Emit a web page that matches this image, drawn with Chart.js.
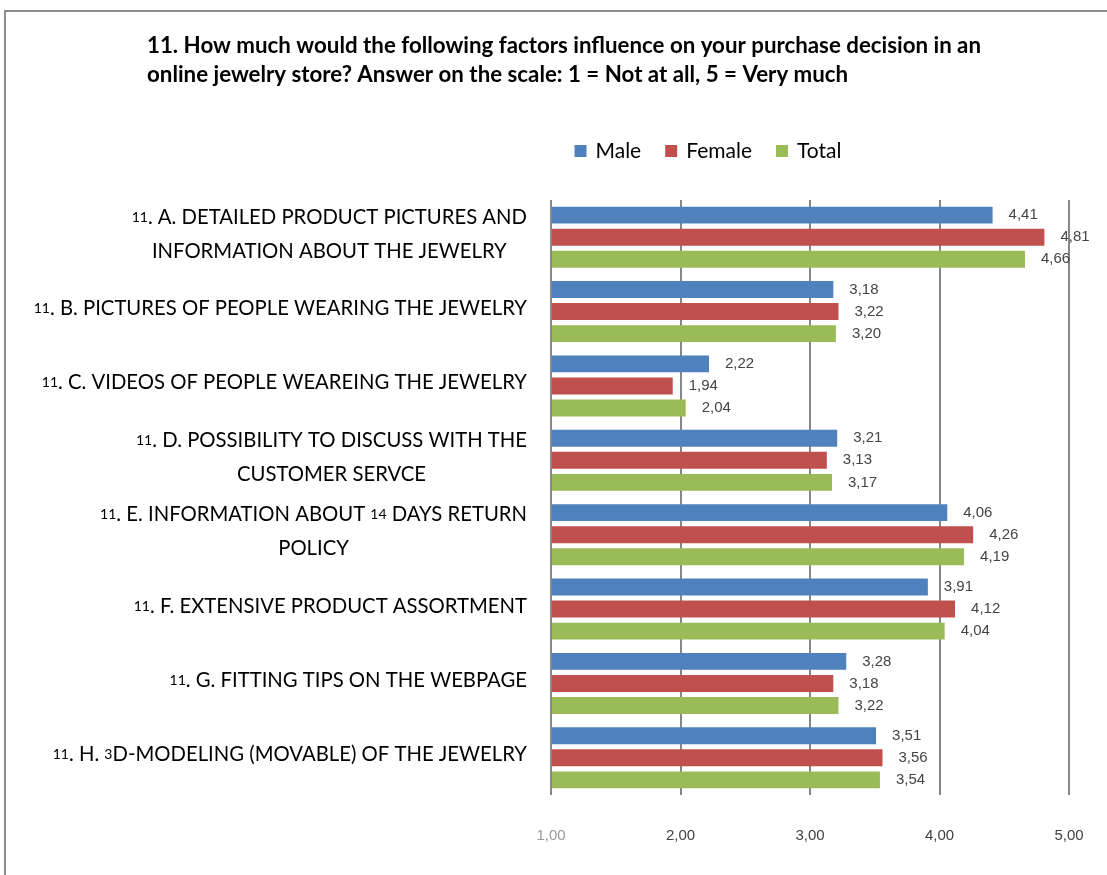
<!DOCTYPE html>
<html lang="en">
<head>
<meta charset="UTF-8" />
<title>Purchase decision factors</title>
<script src="https://cdn.jsdelivr.net/npm/chart.js"></script>
<style>
  body { margin: 0; overflow: hidden; background: #fff; }
  .frame {
    position: fixed; left: 4px; top: 10px; width: 1200px; height: 1000px;
    border: 2px solid #8c8c8c; box-sizing: border-box;
  }
  #wrap { position: fixed; left: 0; top: 0; width: 1107px; height: 875px; }
</style>
</head>
<body>
<div class="frame"></div>
<div id="wrap"><canvas id="chart"></canvas></div>
<script>
const titleLines = [
  '11. How much would the following factors influence on your purchase decision in an',
  'online jewelry store? Answer on the scale: 1 = Not at all, 5 = Very much'
];
const categories = [
  ['11. A. DETAILED PRODUCT PICTURES AND', 'INFORMATION ABOUT THE JEWELRY'],
  ['11. B. PICTURES OF PEOPLE WEARING THE JEWELRY'],
  ['11. C. VIDEOS OF PEOPLE WEAREING THE JEWELRY'],
  ['11. D. POSSIBILITY TO DISCUSS WITH THE', 'CUSTOMER SERVCE'],
  ['11. E. INFORMATION ABOUT 14 DAYS RETURN', 'POLICY'],
  ['11. F. EXTENSIVE PRODUCT ASSORTMENT'],
  ['11. G. FITTING TIPS ON THE WEBPAGE'],
  ['11. H. 3D-MODELING (MOVABLE) OF THE JEWELRY']
];
const male   = [4.41, 3.18, 2.22, 3.21, 4.06, 3.91, 3.28, 3.51];
const female = [4.81, 3.22, 1.94, 3.13, 4.26, 4.12, 3.18, 3.56];
const total  = [4.66, 3.20, 2.04, 3.17, 4.19, 4.04, 3.22, 3.54];
const xTicks = [1, 2, 3, 4, 5];

const LABEL_FONT = 'Lato';
const NUM_FONT = '"Liberation Sans", Arial, sans-serif';
const fmt = v => v.toFixed(2).replace('.', ',');

// draws a string where the digits are set smaller than the letters
function drawMixed(ctx, text, x, y, big, small, measureOnly) {
  const parts = text.match(/\d+|\D+/g);
  let w = 0;
  parts.forEach(p => {
    ctx.font = (/\d/.test(p) ? small : big) + 'px ' + LABEL_FONT;
    const pw = ctx.measureText(p).width;
    if (!measureOnly) ctx.fillText(p, x + w, y);
    w += pw;
  });
  return w;
}

const overlay = {
  id: 'overlay',
  afterDraw(chart) {
    const ctx = chart.ctx;
    const xScale = chart.scales.x;
    const yScale = chart.scales.y;
    const area = chart.chartArea;
    const right = area.left - 24;
    ctx.save();

    // title, stretched to the width of the heading block
    ctx.fillStyle = '#000';
    ctx.textAlign = 'left';
    ctx.textBaseline = 'middle';
    ctx.font = 'bold 18px ' + LABEL_FONT;
    const tw = ctx.measureText(titleLines[0]).width;
    const tsize = 18 * 836 / tw;
    ctx.font = 'bold ' + tsize.toFixed(1) + 'px ' + LABEL_FONT;
    titleLines.forEach((t, i) => ctx.fillText(t, 147, 46 + i * 29));

    // legend
    const items = chart.data.datasets.map(d => ({ label: d.label, color: d.backgroundColor }));
    ctx.font = '21px ' + LABEL_FONT;
    const widths = items.map(it => 12 + 9 + ctx.measureText(it.label).width);
    const gap = 24;
    const totalW = widths.reduce((a, b) => a + b, 0) + gap * (items.length - 1);
    let lx = 708 - totalW / 2;
    items.forEach((it, i) => {
      ctx.fillStyle = it.color;
      ctx.fillRect(lx, 145, 12, 12);
      ctx.fillStyle = '#000';
      ctx.fillText(it.label, lx + 21, 151);
      lx += widths[i] + gap;
    });

    // category labels, lines centred on each other, block right aligned
    ctx.fillStyle = '#000';
    categories.forEach((lines, i) => {
      const cy = yScale.getPixelForValue(i) - 3;
      const ws = lines.map(l => drawMixed(ctx, l, 0, 0, 20.3, 14, true));
      const maxW = Math.max(...ws);
      const center = right - maxW / 2;
      lines.forEach((l, j) => {
        const ly = cy + (j - (lines.length - 1) / 2) * 34;
        drawMixed(ctx, l, center - ws[j] / 2, ly, 20.3, 14, false);
      });
    });

    // value axis tick labels
    ctx.font = '15px ' + NUM_FONT;
    ctx.textAlign = 'center';
    xTicks.forEach(v => {
      ctx.fillStyle = v === 1 ? '#9a9a9a' : '#404040';
      ctx.fillText(fmt(v), xScale.getPixelForValue(v), area.bottom + 41);
    });

    // value labels
    ctx.textAlign = 'left';
    ctx.fillStyle = '#444';
    chart.data.datasets.forEach((ds, di) => {
      chart.getDatasetMeta(di).data.forEach((bar, i) => {
        ctx.fillText(fmt(ds.data[i]), bar.x + 16, bar.y);
      });
    });
    ctx.restore();
  }
};

new Chart(document.getElementById('chart'), {
  type: 'bar',
  data: {
    labels: categories.map(c => c.join(' ')),
    datasets: [
      { label: 'Male', data: male, backgroundColor: '#4F81BD' },
      { label: 'Female', data: female, backgroundColor: '#C0504D' },
      { label: 'Total', data: total, backgroundColor: '#9BBB59' }
    ]
  },
  options: {
    indexAxis: 'y',
    responsive: true,
    maintainAspectRatio: false,
    animation: false,
    base: 1,
    categoryPercentage: 0.89,
    barPercentage: 0.77,
    layout: { padding: { top: 200, right: 38, bottom: 80, left: 0 } },
    plugins: { legend: { display: false }, title: { display: false }, tooltip: { enabled: false } },
    scales: {
      x: {
        min: 1, max: 5,
        afterBuildTicks: s => { s.ticks = xTicks.map(v => ({ value: v })); },
        grid: { color: '#868686', lineWidth: 2, drawTicks: false },
        border: { display: false },
        ticks: { display: false }
      },
      y: {
        grid: { display: false },
        border: { display: false },
        ticks: { display: false },
        afterFit: s => { s.width = 551; }
      }
    }
  },
  plugins: [overlay]
});
</script>
</body>
</html>
